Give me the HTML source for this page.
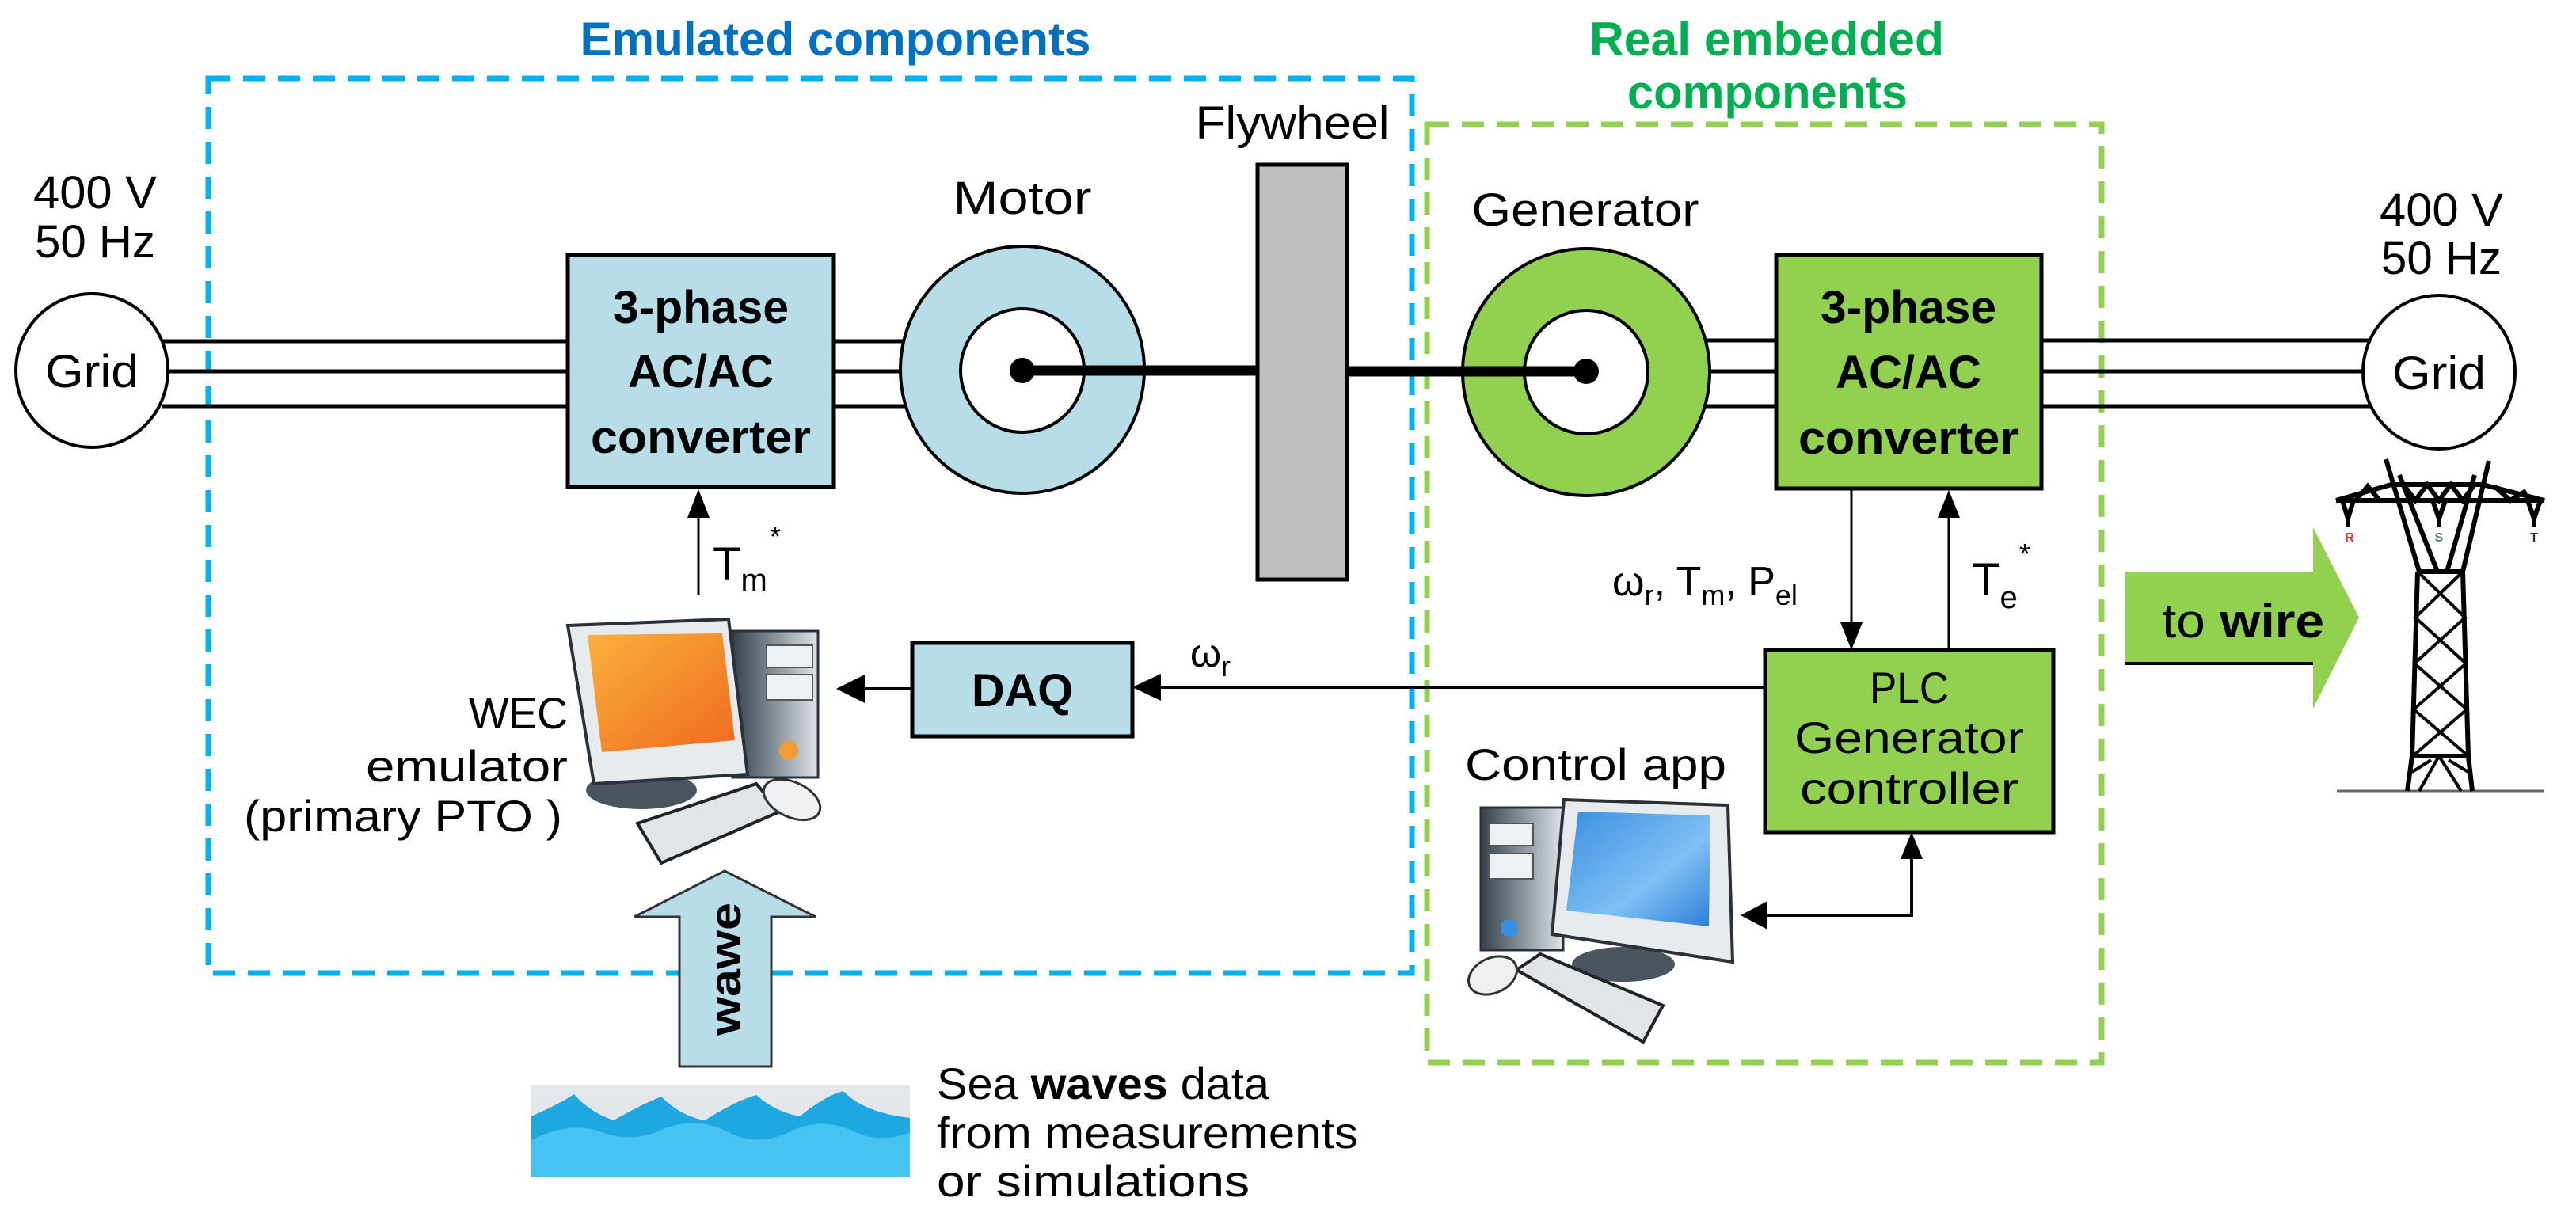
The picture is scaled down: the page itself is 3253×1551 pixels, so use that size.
<!DOCTYPE html>
<html><head><meta charset="utf-8"><style>
html,body{margin:0;padding:0;background:#fff;}
svg{display:block;}
text{font-family:"Liberation Sans",sans-serif;}
</style></head><body>
<svg width="3253" height="1551" viewBox="0 0 3253 1551" xmlns="http://www.w3.org/2000/svg">
<defs>
<linearGradient id="og" x1="0" y1="0" x2="1" y2="1"><stop offset="0" stop-color="#fbb03b"/><stop offset="1" stop-color="#ee6a1f"/></linearGradient>
<linearGradient id="bg" x1="0" y1="0" x2="1" y2="1"><stop offset="0" stop-color="#3a8fe0"/><stop offset="0.6" stop-color="#7fc0f5"/><stop offset="1" stop-color="#2b7fd8"/></linearGradient>
<linearGradient id="tw" x1="0" y1="0" x2="1" y2="0"><stop offset="0" stop-color="#33404c"/><stop offset="1" stop-color="#dfe4e8"/></linearGradient>
</defs>

<text x="1055" y="70" font-size="60" font-weight="bold" fill="#0070c0" text-anchor="middle" textLength="645" lengthAdjust="spacingAndGlyphs">Emulated components</text>
<text x="2231" y="70" font-size="60" font-weight="bold" fill="#00b050" text-anchor="middle" textLength="448" lengthAdjust="spacingAndGlyphs">Real embedded</text>
<text x="2232" y="137" font-size="60" font-weight="bold" fill="#00b050" text-anchor="middle" textLength="354" lengthAdjust="spacingAndGlyphs">components</text>

<rect x="263" y="99" width="1520" height="1130" fill="none" stroke="#00b0f0" stroke-width="7" stroke-dasharray="28,16"/>
<rect x="1802" y="157" width="852" height="1185" fill="none" stroke="#92d050" stroke-width="7" stroke-dasharray="28,16"/>

<text x="120" y="263" font-size="58" text-anchor="middle" textLength="156" lengthAdjust="spacingAndGlyphs">400 V</text>
<text x="120" y="325" font-size="58" text-anchor="middle" textLength="152" lengthAdjust="spacingAndGlyphs">50 Hz</text>
<ellipse cx="116" cy="468" rx="96" ry="97" fill="#fff" stroke="#000" stroke-width="4"/>
<text x="116" y="489" font-size="58" text-anchor="middle" textLength="118" lengthAdjust="spacingAndGlyphs">Grid</text>
<g stroke="#000" stroke-width="5">
<line x1="205" y1="431" x2="717" y2="431"/><line x1="212" y1="469" x2="717" y2="469"/><line x1="205" y1="513" x2="717" y2="513"/>
<line x1="1053" y1="431" x2="1145" y2="431"/><line x1="1053" y1="469" x2="1140" y2="469"/><line x1="1053" y1="513" x2="1145" y2="513"/>
<line x1="2150" y1="430" x2="2243" y2="430"/><line x1="2155" y1="469" x2="2243" y2="469"/><line x1="2150" y1="513" x2="2243" y2="513"/>
<line x1="2578" y1="430" x2="2994" y2="430"/><line x1="2578" y1="469" x2="2986" y2="469"/><line x1="2578" y1="513" x2="2994" y2="513"/>
</g>

<rect x="717" y="322" width="336" height="293" fill="#b7dde8" stroke="#000" stroke-width="5"/>
<g font-size="58" font-weight="bold" text-anchor="middle">
<text x="885" y="408" textLength="222" lengthAdjust="spacingAndGlyphs">3-phase</text>
<text x="885" y="489" textLength="184" lengthAdjust="spacingAndGlyphs">AC/AC</text>
<text x="885" y="572" textLength="278" lengthAdjust="spacingAndGlyphs">converter</text>
</g>

<text x="1291" y="270" font-size="58" text-anchor="middle" textLength="175" lengthAdjust="spacingAndGlyphs">Motor</text>
<ellipse cx="1291" cy="467" rx="154" ry="156" fill="#b7dde8" stroke="#000" stroke-width="4"/>
<circle cx="1291" cy="468" r="78" fill="#fff" stroke="#000" stroke-width="4"/>

<text x="1632" y="175" font-size="58" text-anchor="middle" textLength="245" lengthAdjust="spacingAndGlyphs">Flywheel</text>
<rect x="1588" y="208" width="113" height="524" fill="#bfbfbf" stroke="#000" stroke-width="5"/>

<line x1="1291" y1="468" x2="1588" y2="468" stroke="#000" stroke-width="13"/>
<circle cx="1291" cy="468" r="16" fill="#000"/>

<text x="2002" y="285" font-size="58" text-anchor="middle" textLength="287" lengthAdjust="spacingAndGlyphs">Generator</text>
<ellipse cx="2003" cy="470" rx="156" ry="156" fill="#92d050" stroke="#000" stroke-width="4"/>
<circle cx="2003" cy="470" r="78" fill="#fff" stroke="#000" stroke-width="4"/>
<line x1="1701" y1="469" x2="2003" y2="469" stroke="#000" stroke-width="13"/>
<circle cx="2003" cy="469" r="16" fill="#000"/>

<rect x="2243" y="322" width="335" height="295" fill="#92d050" stroke="#000" stroke-width="5"/>
<g font-size="58" font-weight="bold" text-anchor="middle">
<text x="2410" y="408" textLength="222" lengthAdjust="spacingAndGlyphs">3-phase</text>
<text x="2410" y="490" textLength="184" lengthAdjust="spacingAndGlyphs">AC/AC</text>
<text x="2410" y="573" textLength="278" lengthAdjust="spacingAndGlyphs">converter</text>
</g>

<text x="3083" y="285" font-size="58" text-anchor="middle" textLength="156" lengthAdjust="spacingAndGlyphs">400 V</text>
<text x="3083" y="346" font-size="58" text-anchor="middle" textLength="152" lengthAdjust="spacingAndGlyphs">50 Hz</text>
<ellipse cx="3080" cy="470" rx="96" ry="97" fill="#fff" stroke="#000" stroke-width="4"/>
<text x="3080" y="491" font-size="58" text-anchor="middle" textLength="118" lengthAdjust="spacingAndGlyphs">Grid</text>

<line x1="882" y1="752" x2="882" y2="640" stroke="#000" stroke-width="3"/>
<polygon points="882,618 868,654 896,654" fill="#000"/>
<text x="900" y="732" font-size="58">T<tspan font-size="40" dy="14">m</tspan></text>
<text x="972" y="690" font-size="36">*</text>

<line x1="2338" y1="617" x2="2338" y2="800" stroke="#000" stroke-width="3"/>
<polygon points="2338,821 2324,786 2352,786" fill="#000"/>
<line x1="2461" y1="821" x2="2461" y2="640" stroke="#000" stroke-width="3"/>
<polygon points="2461,619 2447,654 2475,654" fill="#000"/>
<text x="2036" y="752" font-size="52">ω<tspan font-size="36" dy="12">r</tspan><tspan dy="-12">, T</tspan><tspan font-size="36" dy="12">m</tspan><tspan dy="-12">, P</tspan><tspan font-size="36" dy="12">el</tspan></text>
<text x="2490" y="752" font-size="58">T<tspan font-size="40" dy="16">e</tspan></text>
<text x="2550" y="712" font-size="36">*</text>

<rect x="2229" y="821" width="364" height="230" fill="#92d050" stroke="#000" stroke-width="5"/>
<g font-size="56" text-anchor="middle">
<text x="2411" y="888" textLength="100" lengthAdjust="spacingAndGlyphs">PLC</text>
<text x="2411" y="951" textLength="290" lengthAdjust="spacingAndGlyphs">Generator</text>
<text x="2411" y="1015" textLength="276" lengthAdjust="spacingAndGlyphs">controller</text>
</g>

<line x1="2229" y1="868" x2="1450" y2="868" stroke="#000" stroke-width="4"/>
<polygon points="1430,868 1466,851 1466,885" fill="#000"/>
<text x="1503" y="842" font-size="50">ω<tspan font-size="36" dy="12">r</tspan></text>

<rect x="1152" y="812" width="278" height="118" fill="#b7dde8" stroke="#000" stroke-width="5"/>
<text x="1291" y="892" font-size="58" font-weight="bold" text-anchor="middle" textLength="128" lengthAdjust="spacingAndGlyphs">DAQ</text>
<line x1="1152" y1="870" x2="1075" y2="870" stroke="#000" stroke-width="4"/>
<polygon points="1056,870 1092,852 1092,888" fill="#000"/>

<polyline points="2414,1070 2414,1156 2218,1156" fill="none" stroke="#000" stroke-width="4"/>
<polygon points="2414,1051 2400,1085 2428,1085" fill="#000"/>
<polygon points="2198,1156 2232,1138 2232,1174" fill="#000"/>

<g>
<ellipse cx="810" cy="998" rx="70" ry="24" fill="#4a5560"/>
<rect x="925" y="797" width="108" height="185" fill="url(#tw)" stroke="#2a3138" stroke-width="3"/>
<rect x="968" y="815" width="58" height="28" fill="#eef1f3" stroke="#555" stroke-width="2"/>
<rect x="968" y="852" width="58" height="32" fill="#eef1f3" stroke="#555" stroke-width="2"/>
<circle cx="996" cy="948" r="12" fill="#f39c33"/>
<polygon points="717,790 920,782 944,978 750,990" fill="#e8ebee" stroke="#2a3138" stroke-width="4"/>
<polygon points="742,802 912,800 928,935 760,950" fill="url(#og)"/>
<polygon points="805,1040 955,990 985,1025 835,1090" fill="#e1e5e9" stroke="#222" stroke-width="4"/>
<ellipse cx="1000" cy="1010" rx="38" ry="22" fill="#eef0f2" stroke="#333" stroke-width="3" transform="rotate(25 1000 1010)"/>
</g>
<text x="717" y="920" font-size="56" text-anchor="end" textLength="125" lengthAdjust="spacingAndGlyphs">WEC</text>
<text x="717" y="987" font-size="56" text-anchor="end" textLength="255" lengthAdjust="spacingAndGlyphs">emulator</text>
<text x="710" y="1050" font-size="56" text-anchor="end" textLength="402" lengthAdjust="spacingAndGlyphs">(primary PTO )</text>

<polygon points="915,1100 1030,1158 974,1158 974,1347 858,1347 858,1158 801,1158" fill="#b7dde8" stroke="#333" stroke-width="3"/>
<text transform="translate(935,1224) rotate(-90)" font-size="56" font-weight="bold" text-anchor="middle" textLength="168" lengthAdjust="spacingAndGlyphs">wawe</text>

<rect x="671" y="1370" width="478" height="117" fill="#e4e7ea"/>
<path d="M671,1410 Q705,1395 725,1382 Q745,1405 775,1415 Q810,1395 835,1385 Q860,1410 890,1415 Q930,1390 955,1383 Q980,1405 1010,1410 Q1040,1385 1065,1378 Q1090,1405 1149,1412 L1149,1487 L671,1487 Z" fill="#1ea7e0"/>
<path d="M671,1440 Q720,1415 760,1430 Q800,1445 840,1425 Q880,1410 920,1430 Q960,1450 1000,1428 Q1040,1410 1080,1430 Q1115,1445 1149,1430 L1149,1487 L671,1487 Z" fill="#45c4f2"/>
<text x="1183" y="1388" font-size="56" textLength="420" lengthAdjust="spacingAndGlyphs">Sea <tspan font-weight="bold">waves</tspan> data</text>
<text x="1183" y="1450" font-size="56" textLength="532" lengthAdjust="spacingAndGlyphs">from measurements</text>
<text x="1183" y="1511" font-size="56" textLength="395" lengthAdjust="spacingAndGlyphs">or simulations</text>

<text x="2015" y="985" font-size="56" text-anchor="middle" textLength="330" lengthAdjust="spacingAndGlyphs">Control app</text>
<g>
<rect x="1870" y="1020" width="104" height="180" fill="url(#tw)" stroke="#2a3138" stroke-width="3"/>
<rect x="1880" y="1040" width="56" height="28" fill="#eef1f3" stroke="#555" stroke-width="2"/>
<rect x="1880" y="1078" width="56" height="32" fill="#eef1f3" stroke="#555" stroke-width="2"/>
<circle cx="1906" cy="1172" r="11" fill="#3a8fe0"/>
<ellipse cx="2050" cy="1218" rx="65" ry="22" fill="#4a5560"/>
<polygon points="1975,1010 2182,1017 2188,1215 1960,1180" fill="#e8ebee" stroke="#2a3138" stroke-width="4"/>
<polygon points="1993,1025 2160,1030 2158,1170 1978,1150" fill="url(#bg)"/>
<polygon points="1915,1225 1945,1205 2100,1270 2075,1316" fill="#e1e5e9" stroke="#222" stroke-width="4"/>
<ellipse cx="1885" cy="1232" rx="32" ry="22" fill="#eef0f2" stroke="#333" stroke-width="3" transform="rotate(-25 1885 1232)"/>
</g>

<polygon points="2684,722 2921,722 2921,666 2979,780 2921,895 2921,838 2684,838" fill="#92d050"/>
<line x1="2684" y1="838" x2="2921" y2="838" stroke="#000" stroke-width="4"/>
<text x="2730" y="805" font-size="60" textLength="205" lengthAdjust="spacingAndGlyphs">to <tspan font-weight="bold">wire</tspan></text>

<g stroke="#000" stroke-width="6" fill="none">
<line x1="2951" y1="999" x2="3213" y2="999" stroke="#666" stroke-width="3"/>
<line x1="3013" y1="580" x2="3055" y2="722"/>
<line x1="3030" y1="600" x2="3078" y2="722"/>
<line x1="3143" y1="582" x2="3110" y2="722"/>
<line x1="3125" y1="600" x2="3090" y2="722"/>
<polyline points="2950,632 3020,612 3135,612 3213,632 2950,632"/>
<path d="M2975,632 L2990,614 L3005,632 M3035,612 L3050,632 L3065,612 L3080,632 L3095,612 L3110,632 L3125,612 M3150,614 L3170,632 L3190,620"/>
<path d="M2958,632 L2965,655 L2972,632 M3072,632 L3080,655 L3088,632 M3192,632 L3200,655 L3208,632"/>
<line x1="2965" y1="655" x2="2965" y2="665"/><line x1="3080" y1="655" x2="3080" y2="665"/><line x1="3200" y1="655" x2="3200" y2="665"/>
<line x1="3053" y1="722" x2="3110" y2="722"/>
<line x1="3053" y1="722" x2="3046" y2="955"/>
<line x1="3110" y1="722" x2="3117" y2="955"/>
<path d="M3053,722 L3113,780 L3049,838 L3115,896 L3047,955 M3110,722 L3050,780 L3114,838 L3048,896 L3117,955" stroke-width="4"/>
<line x1="3046" y1="955" x2="3117" y2="955"/>
<line x1="3046" y1="955" x2="3040" y2="999"/><line x1="3117" y1="955" x2="3122" y2="999"/>
<path d="M3080,955 L3055,999 M3080,955 L3108,999 M3046,975 L3070,960 M3117,975 L3092,960" stroke-width="4"/>
</g>
<text x="2967" y="684" font-size="16" fill="#d33" text-anchor="middle" font-weight="bold">R</text>
<text x="3080" y="684" font-size="16" fill="#577" text-anchor="middle" font-weight="bold">S</text>
<text x="3200" y="684" font-size="16" fill="#326" text-anchor="middle" font-weight="bold">T</text>
</svg>
</body></html>
